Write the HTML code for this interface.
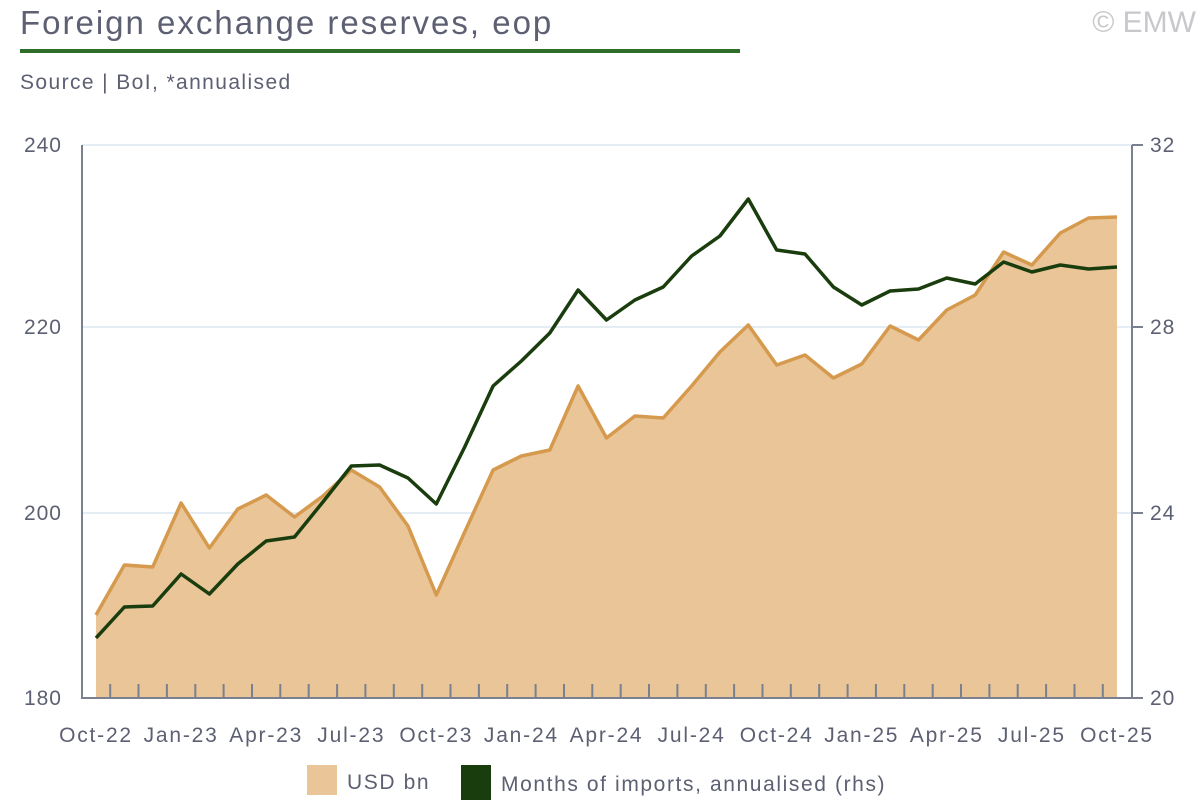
<!DOCTYPE html>
<html><head><meta charset="utf-8"><style>
html,body{margin:0;padding:0;background:#fff;}
body{width:1200px;height:800px;overflow:hidden;font-family:"Liberation Sans",sans-serif;}
</style></head><body>
<svg width="1200" height="800" xmlns="http://www.w3.org/2000/svg" font-family="Liberation Sans, sans-serif">
<text x="20" y="34" font-size="33" fill="#5d6072" letter-spacing="2">Foreign exchange reserves, eop</text>
<text x="1196" y="32" font-size="30" fill="#c8c8cc" text-anchor="end">© EMW</text>
<rect x="20" y="49" width="720" height="4" fill="#2f6e2a"/>
<text x="20" y="89" font-size="21" fill="#5d6072" letter-spacing="1.4">Source | BoI, *annualised</text>
<g stroke="#dbe5f0" stroke-width="1.5">
<line x1="82" y1="145" x2="1132" y2="145"/><line x1="82" y1="327" x2="1132" y2="327"/><line x1="82" y1="513" x2="1132" y2="513"/>
</g>
<path id="area" fill="#e9c598" stroke="none"/>
<polyline id="oline" fill="none" stroke="#d69a4e" stroke-width="3.5" stroke-linejoin="round"/>
<polyline id="gline" fill="none" stroke="#1a3d0e" stroke-width="3.5" stroke-linejoin="round"/>
<g id="ticks" stroke="#7a8090" stroke-width="2"></g>
<g stroke="#7a8090" stroke-width="2" fill="none">
<polyline points="82,145 82,698 1132,698 1132,145"/>
<line x1="1132" y1="145" x2="1143" y2="145"/><line x1="1132" y1="327" x2="1143" y2="327"/><line x1="1132" y1="513" x2="1143" y2="513"/><line x1="1132" y1="698" x2="1143" y2="698"/>
</g>
<g font-size="21" fill="#5d6072" letter-spacing="1">
<text x="62" y="152" text-anchor="end">240</text><text x="62" y="334" text-anchor="end">220</text><text x="62" y="520" text-anchor="end">200</text><text x="62" y="705" text-anchor="end">180</text>
<text x="1150" y="152">32</text><text x="1150" y="334">28</text><text x="1150" y="520">24</text><text x="1150" y="705">20</text>
</g>
<g id="xl" font-size="21" fill="#5d6072" text-anchor="middle" letter-spacing="1.8"></g>
<rect x="307" y="765" width="30" height="30" fill="#e9c598"/>
<text x="347" y="789" font-size="21" fill="#5d6072" letter-spacing="1.6">USD bn</text>
<rect x="461" y="765" width="30" height="35" fill="#1a3d0e"/>
<text x="501" y="791" font-size="21" fill="#5d6072" letter-spacing="1.6">Months of imports, annualised (rhs)</text>
</svg>
<script>
var o=[615,565,567,503,548,509,495,517,496,470,487,526,595,532,470,456,450,386,438,416,418,386,352,325,365,355,378,364,326,340,310,295,252,265,233,218,217];
var g=[638,607,606,574,594,564,541,537,502,466,465,478,504,447,386,361,333,290,320,300,287,256,236,199,250,254,287,305,291,289,278,284,262,272,265,269,267];
var x0=96,dx=(1117-96)/36,op=[],gp=[];
for(var i=0;i<37;i++){var x=x0+i*dx;op.push(x.toFixed(1)+","+o[i]);gp.push(x.toFixed(1)+","+g[i]);}
document.getElementById("oline").setAttribute("points",op.join(" "));
document.getElementById("gline").setAttribute("points",gp.join(" "));
document.getElementById("area").setAttribute("d","M96,698 L"+op.join(" L")+" L1117,698 Z");
var t=document.getElementById("ticks"),s="";
for(var i=0;i<36;i++){var x=x0+(i+0.5)*dx;s+='<line x1="'+x.toFixed(1)+'" y1="684" x2="'+x.toFixed(1)+'" y2="698"/>';}
t.innerHTML=s;
var L=["Oct-22","Jan-23","Apr-23","Jul-23","Oct-23","Jan-24","Apr-24","Jul-24","Oct-24","Jan-25","Apr-25","Jul-25","Oct-25"],h="";
for(var k=0;k<13;k++){var x=x0+k*3*dx;h+='<text x="'+x.toFixed(1)+'" y="742">'+L[k]+'</text>';}
document.getElementById("xl").innerHTML=h;
</script>
</body></html>
